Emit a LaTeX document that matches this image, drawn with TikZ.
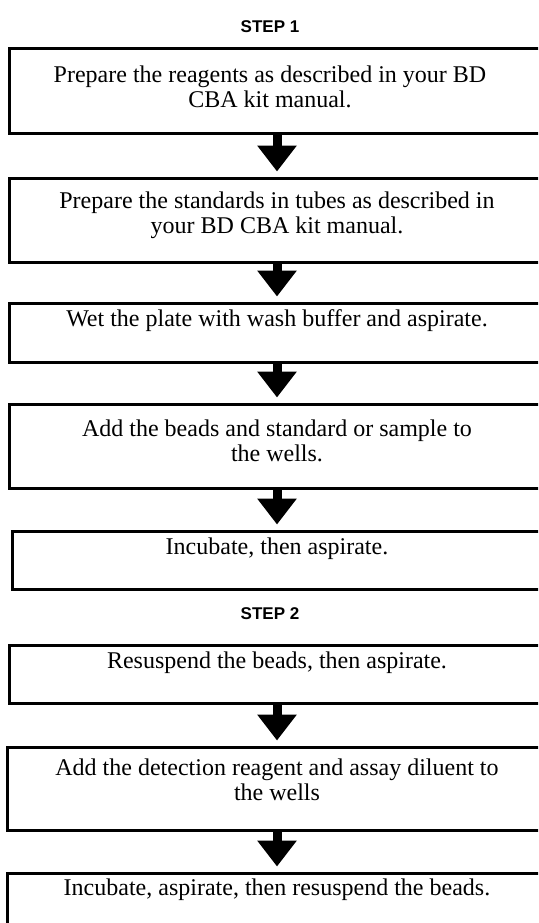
\documentclass[tikz,border=0pt]{standalone}
\usepackage{fontspec}
\setmainfont{Liberation Serif}
\newfontfamily\stepfont{Liberation Sans}
\usetikzlibrary{arrows.meta}
\begin{document}
\begin{tikzpicture}[x=1pt,y=-1pt,
  box/.style={draw, line width=3pt, inner sep=0pt, rectangle},
  txt/.style={font=\fontsize{24}{25}\selectfont, align=center, inner sep=0pt},
  steplabel/.style={font=\stepfont\bfseries\fontsize{17}{20}\selectfont, inner sep=0pt},
  flow/.style={line width=9pt, -{Triangle[length=26pt,width=38pt]}}]
\useasboundingbox (0,0) rectangle (538,923);
\clip (0,0) rectangle (538,923);

\node[steplabel] (s1) at (270,27) {STEP 1};
\node[steplabel] (s2) at (270,614) {STEP 2};

\node[box, minimum width=536pt, minimum height=85pt] (b1) at (277,91.5) {};
\node[box, minimum width=536pt, minimum height=84pt] (b2) at (277,220) {};
\node[box, minimum width=536pt, minimum height=59pt] (b3) at (277,332.5) {};
\node[box, minimum width=536pt, minimum height=84pt] (b4) at (277,446) {};
\node[box, minimum width=530pt, minimum height=58pt] (b5) at (277,560) {};
\node[box, minimum width=536pt, minimum height=58pt] (b6) at (277,674) {};
\node[box, minimum width=540pt, minimum height=83pt] (b7) at (277,788.5) {};
\node[box, minimum width=540pt, minimum height=87pt] (b8) at (277,916.5) {};

\node[txt] (t1) at (270,87) {Prepare the reagents as described in your BD\\CBA kit manual.};
\node[txt] (t2) at (277,215) {Prepare the standards in tubes as described in\\your BD CBA kit manual.};
\node[txt] (t3) at (277,321) {Wet the plate with wash buffer and aspirate.};
\node[txt] (t4) at (277,441) {Add the beads and standard or sample to\\the wells.};
\node[txt] (t5) at (277,549) {Incubate, then aspirate.};
\node[txt] (t6) at (277,663) {Resuspend the beads, then aspirate.};
\node[txt] (t7) at (277,780) {Add the detection reagent and assay diluent to\\the wells};
\node[txt] (t8) at (277,890) {Incubate, aspirate, then resuspend the beads.};

\draw[flow] (b1.south) -- ([yshift=5pt]b2.north);
\draw[flow] (b2.south) -- ([yshift=5pt]b3.north);
\draw[flow] (b3.south) -- ([yshift=5pt]b4.north);
\draw[flow] (b4.south) -- ([yshift=5pt]b5.north);
\draw[flow] (b6.south) -- ([yshift=5pt]b7.north);
\draw[flow] (b7.south) -- ([yshift=5pt]b8.north);
\end{tikzpicture}
\end{document}
